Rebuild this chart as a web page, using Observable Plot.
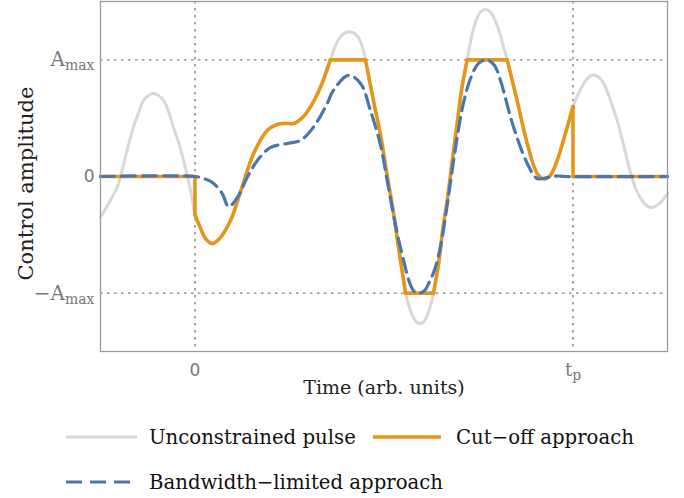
<!DOCTYPE html>
<html><head><meta charset="utf-8">
<script src="https://cdn.jsdelivr.net/npm/d3@7"></script>
<script src="https://cdn.jsdelivr.net/npm/@observablehq/plot@0.6"></script>
<style>
body{margin:0;background:#fff;}
#chart{width:684px;}
</style></head><body><div id="chart"></div>
<script>
// Unconstrained pulse (time in units of t_p, amplitude in units of A_max)
const unconstrainedT = [-0.25,-0.224,-0.206,-0.197,-0.181,-0.163,-0.149,-0.136,-0.123,-0.11,-0.097,-0.083,-0.07,-0.057,-0.044,-0.03,-0.02,-0.009,0,
  0.015,0.028,0.046,0.067,0.094,0.112,0.125,0.155,0.191,0.217,0.239,0.261,0.287,0.311,0.335,0.358,
  0.372,0.388,0.409,0.43,0.443,0.451,
  0.472,0.491,0.507,0.525,0.538,0.552,0.557,
  0.57,0.581,0.594,0.607,0.618,0.631,
  0.644,0.657,0.668,0.679,0.694,0.705,0.72,
  0.731,0.742,0.755,0.769,0.782,0.795,0.808,0.817,0.826,
  0.852,0.879,0.905,0.922,0.94,0.958,0.98,1,
  1.02,1.038,1.052,1.065,1.081,1.099,1.117,1.134,1.152,1.168,1.181,1.194,1.208,1.221,1.234,1.25];
const unconstrainedV = [-0.349,-0.206,-0.092,0,0.206,0.421,0.549,0.652,0.695,0.712,0.695,0.652,0.558,0.421,0.3,0.137,0,-0.163,-0.326,
  -0.446,-0.532,-0.575,-0.524,-0.378,-0.215,-0.086,0.197,0.395,0.446,0.455,0.455,0.515,0.627,0.79,1,
  1.124,1.21,1.24,1.202,1.107,1,
  0.652,0.352,0.034,-0.309,-0.601,-0.893,-1,
  -1.15,-1.227,-1.262,-1.236,-1.159,-1,
  -0.755,-0.421,-0.189,0.094,0.464,0.738,1,
  1.185,1.322,1.408,1.431,1.408,1.33,1.21,1.099,1,
  0.652,0.283,0.026,-0.02,0.009,0.137,0.369,0.6,
  0.747,0.841,0.867,0.858,0.798,0.652,0.481,0.266,0.034,-0.12,-0.197,-0.249,-0.266,-0.249,-0.215,-0.146];

// Cut-off approach, as pieces [time, amplitude]
const cutoffSegments = [
  [[-0.25,0],[0,0]],
  [[0,0],[0,-0.326]],
  [[0,-0.326],[0.015,-0.446],[0.028,-0.532],[0.046,-0.575],[0.067,-0.524],[0.094,-0.378],[0.112,-0.215],[0.125,-0.086],[0.155,0.197],[0.191,0.395],[0.217,0.446],[0.239,0.455],[0.261,0.455],[0.287,0.515],[0.311,0.627],[0.335,0.79],[0.358,1]],
  [[0.358,1],[0.451,1]],
  [[0.451,1],[0.472,0.652],[0.491,0.352],[0.507,0.034],[0.525,-0.309],[0.538,-0.601],[0.552,-0.893],[0.557,-1]],
  [[0.557,-1],[0.631,-1]],
  [[0.631,-1],[0.644,-0.755],[0.657,-0.421],[0.668,-0.189],[0.679,0.094],[0.694,0.464],[0.705,0.738],[0.72,1]],
  [[0.72,1],[0.826,1]],
  [[0.826,1],[0.852,0.652],[0.879,0.283],[0.905,0.026],[0.922,-0.02],[0.94,0.009],[0.958,0.137],[0.98,0.369],[1,0.6]],
  [[1,0.6],[1,0]],
  [[1,0],[1.25,0]]
];

// Bandwidth-limited approach
const bandwidthT = [-0.25,0,0.022,0.046,0.072,0.089,0.112,0.138,0.165,0.2,0.244,0.279,0.313,0.35,0.366,0.406,0.438,0.464,0.491,0.507,0.522,0.538,0.552,0.565,0.578,0.591,0.607,0.619,0.633,0.649,0.667,0.676,0.694,0.71,0.729,0.75,0.773,0.792,0.808,0.843,0.879,0.905,0.932,0.956,0.98,1.25];
const bandwidthV = [0,0,-0.017,-0.052,-0.146,-0.258,-0.18,-0.009,0.137,0.249,0.283,0.309,0.421,0.627,0.738,0.867,0.798,0.567,0.266,-0.009,-0.275,-0.532,-0.721,-0.884,-0.979,-1,-0.979,-0.91,-0.807,-0.609,-0.249,-0.043,0.343,0.627,0.841,0.97,1,0.953,0.824,0.421,0.112,-0.017,-0.009,0.004,0,0];

const xTicks = [0, 1];
const xTickLabels = ["0", "t_p"];
const yTicks = [-1, 0, 1];
const yTickLabels = ["−A_max", "0", "A_max"];
const seriesNames = ["Unconstrained pulse", "Cut−off approach", "Bandwidth−limited approach"];
const seriesColors = ["#d8d8d8", "#e5961a", "#4a76b0"];

const gray = unconstrainedT.map((t, i) => ({t, v: unconstrainedV[i]}));
const orange = cutoffSegments.flatMap((seg, k) => seg.map(([t, v]) => ({t, v, seg: k})));
const blue = bandwidthT.map((t, i) => ({t, v: bandwidthV[i]}));

const serif = "'DejaVu Serif', serif";
const grid = {stroke: "#808080", strokeWidth: 1.4, strokeDasharray: "2.5,4.5"};

const chart = Plot.plot({
  width: 684, height: 400,
  marginLeft: 100, marginRight: 17, marginTop: 1, marginBottom: 49,
  x: {domain: [-0.25, 1.25]},
  y: {domain: [-1.5, 1.5]},
  style: {fontFamily: serif, background: "#fff", overflow: "visible"},
  marks: [
    Plot.ruleX(xTicks, grid),
    Plot.ruleY([-1, 1], grid),
    Plot.line(gray, {x: "t", y: "v", stroke: seriesColors[0], strokeWidth: 3, curve: "catmull-rom"}),
    Plot.line(orange, {x: "t", y: "v", z: "seg", stroke: seriesColors[1], strokeWidth: 3.6, curve: "catmull-rom"}),
    Plot.line(blue, {x: "t", y: "v", stroke: seriesColors[2], strokeWidth: 3.2, strokeDasharray: "14,7", curve: "catmull-rom"}),
    Plot.frame({stroke: "#9a9a9a", strokeWidth: 1.3}),
    Plot.axisX(xTicks, {tickFormat: d => xTickLabels[xTicks.indexOf(d)], tickSize: 0, tickPadding: 12, fontSize: 18, fill: "#777", label: null}),
    Plot.axisY(yTicks, {tickFormat: d => yTickLabels[yTicks.indexOf(d)], tickSize: 0, tickPadding: 6, fontSize: 20, fill: "#777", label: null}),
    Plot.text(["Time (arb. units)"], {frameAnchor: "bottom", textAnchor: "middle", dy: 42, fontSize: 19, fill: "#222"}),
    Plot.text(["Control amplitude"], {frameAnchor: "left", textAnchor: "middle", rotate: -90, dx: -74, dy: 7, fontSize: 21, fill: "#222"})
  ]
});

// subscripts in tick labels
d3.select(chart).selectAll("text").each(function() {
  const el = this;
  const s = el.textContent;
  if (s === "0") { el.style.fontFamily = "'DejaVu Sans', sans-serif"; el.setAttribute("font-size", "17"); return; }
  const m = s.match(/^(.*)_(.*)$/);
  if (m && el.childElementCount === 0) {
    el.textContent = "";
    const sel = d3.select(el);
    sel.append("tspan").text(m[1]);
    sel.append("tspan").attr("font-size", "14").attr("dy", "0.3em").text(m[2]);
  }
});
document.getElementById("chart").appendChild(chart);

// legend below the plot
const leg = d3.create("svg").attr("width", 684).attr("height", 98)
  .style("display", "block").style("font-family", serif).style("font-size", "19.7px");
const items = [
  {x0: 66, x1: 137, y: 37, tx: 149, w: 3, dash: null, i: 0},
  {x0: 373, x1: 441, y: 37, tx: 456, w: 3.6, dash: null, i: 1},
  {x0: 66, x1: 132, y: 82, tx: 149, w: 3.2, dash: "16,8", i: 2}
];
for (const it of items) {
  leg.append("line").attr("x1", it.x0).attr("x2", it.x1).attr("y1", it.y).attr("y2", it.y)
    .attr("stroke", seriesColors[it.i]).attr("stroke-width", it.w).attr("stroke-dasharray", it.dash);
  leg.append("text").attr("x", it.tx).attr("y", it.y).attr("dy", "0.35em").attr("fill", "#111").text(seriesNames[it.i]);
}
document.getElementById("chart").appendChild(leg.node());
</script></body></html>
